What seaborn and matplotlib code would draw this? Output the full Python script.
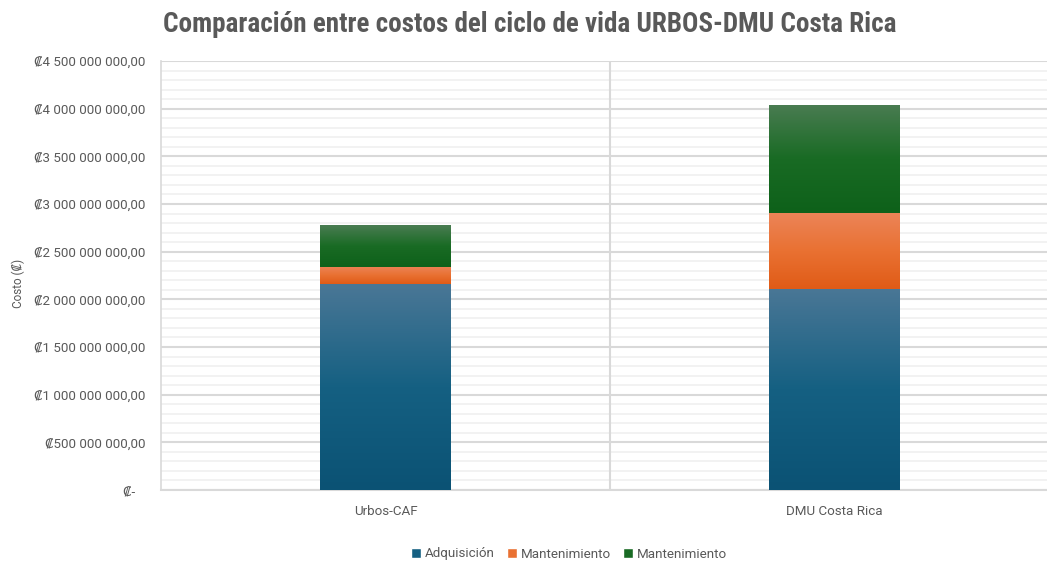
import numpy as np
import pandas as pd
import seaborn as sns
import matplotlib.pyplot as plt
from matplotlib.colors import LinearSegmentedColormap
from matplotlib.patches import Patch
from matplotlib.ticker import MultipleLocator, FuncFormatter

# Datos (colones)
categorias = ["Urbos-CAF", "DMU Costa Rica"]
adquisicion = [2160000000, 2110000000]
mantenimiento_a = [183000000, 793000000]
mantenimiento_b = [435000000, 1137000000]
series = ["Adquisición", "Mantenimiento", "Mantenimiento"]

# color base, tope claro, fondo oscuro
colores = ["#156082", "#e97132", "#196b24"]
topes = ["#4a7796", "#ec8458", "#4a7c52"]
fondos = ["#0b5274", "#e05b17", "#0e611a"]

gris = "#595959"
sns.set_theme(style="white")
plt.rcParams["font.family"] = ["Roboto", "DejaVu Sans"]

fig = plt.figure(figsize=(10.47, 5.61), dpi=100)
ax = fig.add_axes([161 / 1047, 71 / 561, 898 / 1047, 429 / 561])

valores = [adquisicion, mantenimiento_a, mantenimiento_b]
base = np.zeros(len(categorias))
for i, vals in enumerate(valores):
    df = pd.DataFrame({"categoria": categorias, "valor": vals})
    n0 = len(ax.patches)
    sns.barplot(data=df, x="categoria", y="valor", color=colores[i], width=0.29,
                errorbar=None, saturation=1, ax=ax, zorder=3)
    cmap = LinearSegmentedColormap.from_list(
        "g%d" % i, [(0, fondos[i]), (0.5, colores[i]), (1, topes[i])])
    for j, p in enumerate(ax.patches[n0:]):
        p.set_y(base[j])
        p.set_height(vals[j])
        p.set_linewidth(0)
        x0 = p.get_x()
        x1 = x0 + p.get_width()
        img = ax.imshow(np.linspace(0, 1, 256).reshape(-1, 1), origin="lower",
                        extent=[x0, x1, base[j], base[j] + vals[j]], aspect="auto",
                        cmap=cmap, zorder=3.5, interpolation="bilinear")
        img.set_clip_path(p)
    base = base + np.array(vals)

ax.set_xlim(-0.5, 1.5)
ax.set_ylim(0, 4.5e9)
ax.set_xlabel("")
ax.set_ylabel("")

ax.yaxis.set_major_locator(MultipleLocator(5e8))
ax.yaxis.set_minor_locator(MultipleLocator(1e8))


def colones(v, pos):
    if v == 0:
        return "₡-   "
    s = f"{v:,.2f}".replace(",", " ").replace(".", ",")
    return "₡" + s


ax.yaxis.set_major_formatter(FuncFormatter(colones))
ax.grid(which="major", axis="y", color="#d9d9d9", lw=1.5, zorder=0)
ax.grid(which="minor", axis="y", color="#f0f0f0", lw=1.2, zorder=0)
ax.axvline(0.5, color="#d9d9d9", lw=1.5, zorder=1)
ax.tick_params(axis="both", which="both", length=0, colors=gris, labelsize=9.6)
ax.tick_params(axis="y", pad=11)
ax.tick_params(axis="x", pad=11)

for s in ["top", "right"]:
    ax.spines[s].set_visible(False)
ax.spines["left"].set_color("#d9d9d9")
ax.spines["bottom"].set_color("#d9d9d9")
ax.spines["left"].set_linewidth(1.2)
ax.spines["bottom"].set_linewidth(1.5)

fig.text(18 / 1047, 1 - 283 / 561, "Costo (₡)", rotation=90, ha="center", va="center",
         color=gris, fontsize=8.5)
fig.text(530 / 1047, 1 - 24 / 561, "Comparación entre costos del ciclo de vida URBOS-DMU Costa Rica",
         ha="center", va="center", color=gris, fontsize=19.5, fontweight="bold",
         family=["Liberation Sans Narrow", "Roboto Condensed", "DejaVu Sans"])

handles = [Patch(facecolor=c) for c in colores]
fig.legend(handles, series, loc="center", bbox_to_anchor=(569 / 1047, 1 - 554 / 561), ncol=3,
           frameon=False, fontsize=9.6, labelcolor=gris, handlelength=0.75, handleheight=0.75,
           handletextpad=0.3, columnspacing=0.9)

fig.savefig("out.png", dpi=100)
